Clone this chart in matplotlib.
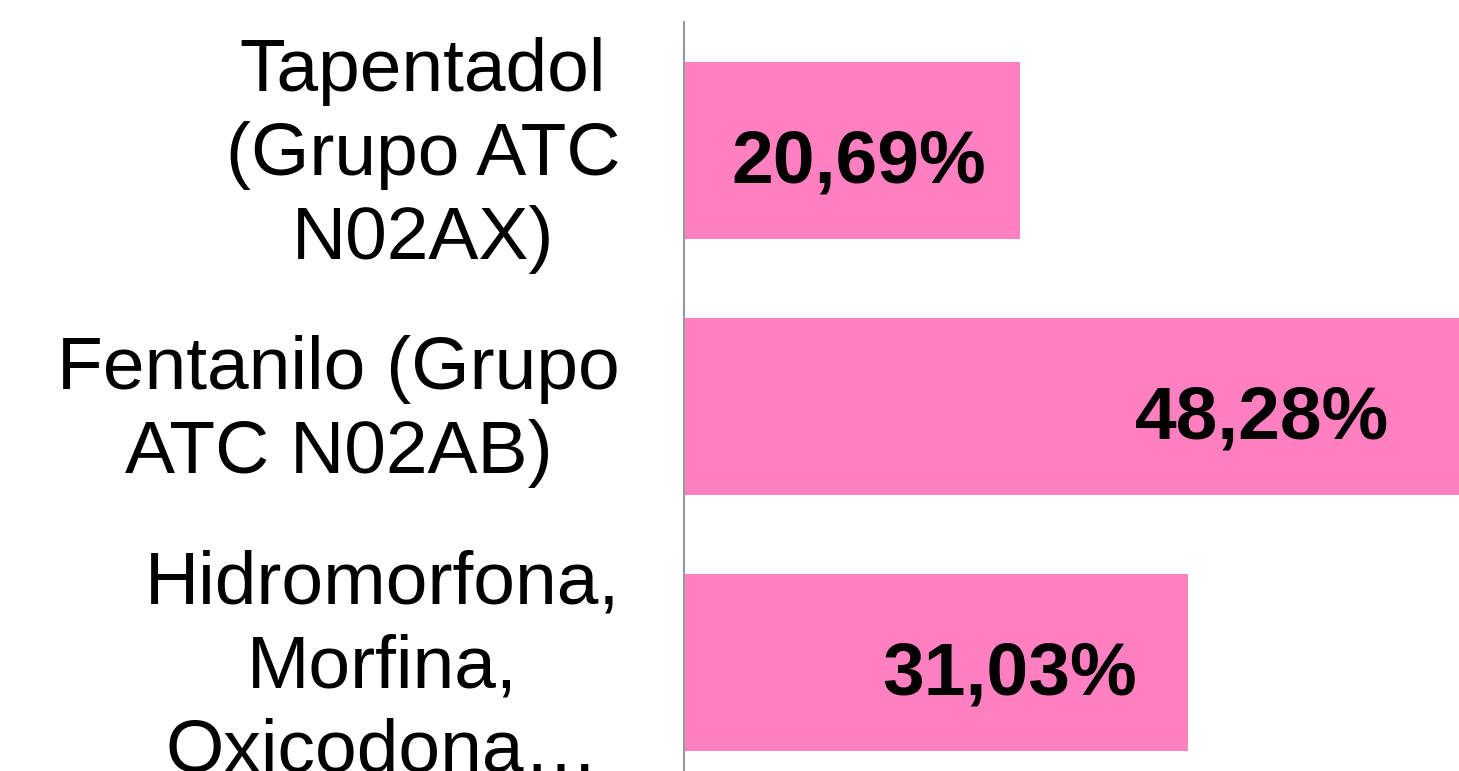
import matplotlib.pyplot as plt
from matplotlib.transforms import ScaledTranslation

# Data.
categories = [
    "Tapentadol\n(Grupo ATC\nN02AX)",
    "Fentanilo (Grupo\nATC N02AB)",
    "Hidromorfona,\nMorfina,\nOxicodona…",
]
values = [20.69, 48.28, 31.03]
value_labels = ["20,69%", "48,28%", "31,03%"]

plt.rcParams.update({
    "font.family": ["Liberation Sans", "DejaVu Sans"],
})

fig = plt.figure(figsize=(14.59, 7.71), dpi=100)
# Axes runs past the bottom and right edge of the figure, like the cropped original.
ax = fig.add_axes([684 / 1459, -20 / 771, 784 / 1459, 769 / 771])

y = list(range(len(categories)))
ax.barh(y, values, height=0.69, color="#FF80C0", zorder=2)

# Value labels, bold, inside the bar end.
for yi, v, lab in zip(y, values, value_labels):
    ax.text(v * 0.9, yi + 0.02, lab, ha="right", va="center_baseline",
            fontsize=54, fontweight="bold", color="black", zorder=3)

ax.set_yticks(y)
ax.set_yticklabels(categories, fontsize=54, multialignment="center",
                   linespacing=1.28)
ax.tick_params(axis="y", length=0, pad=46)
# nudge the multi-line category labels up a little
shift = ScaledTranslation(0, 0.1, fig.dpi_scale_trans)
for lbl in ax.get_yticklabels():
    lbl.set_transform(lbl.get_transform() + shift)

ax.set_xticks([])
ax.set_xlim(0, max(values))
ax.set_ylim(len(categories) - 0.5, -0.5)

# Spines: keep only the grey left axis line.
for side in ["top", "right", "bottom"]:
    ax.spines[side].set_visible(False)
ax.spines["left"].set_color("#999999")
ax.spines["left"].set_linewidth(1.5)

plt.savefig("out.png", dpi=100)
